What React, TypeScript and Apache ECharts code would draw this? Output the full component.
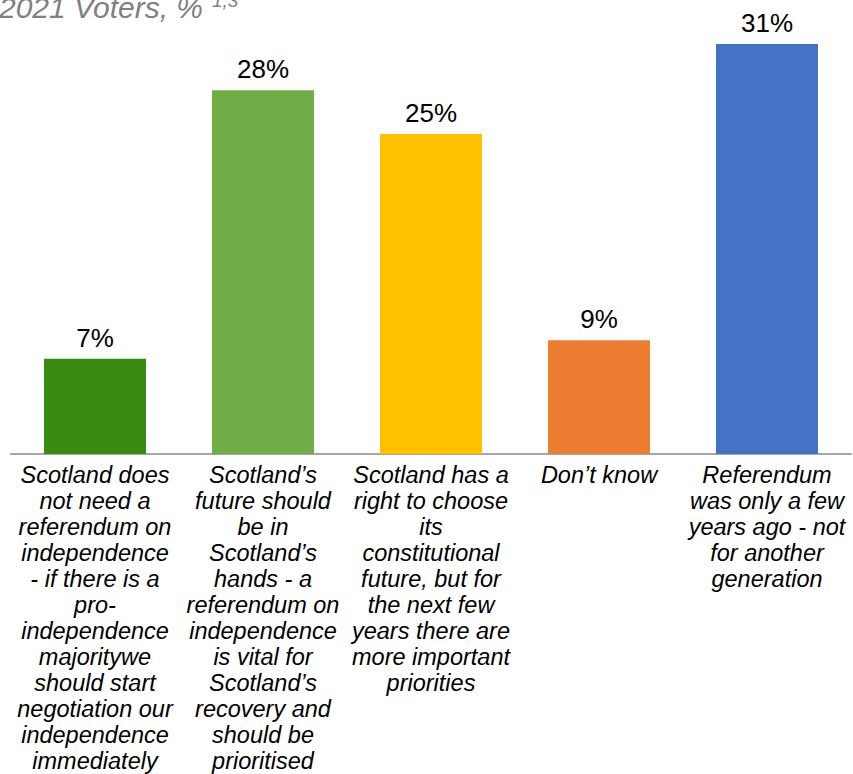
import React, { useEffect, useRef } from "react";
import * as echarts from "echarts";

const categories: string[] = [
  "Scotland does\nnot need a\nreferendum on\nindependence\n- if there is a\npro-\nindependence\nmajoritywe\nshould start\nnegotiation our\nindependence\nimmediately",
  "Scotland’s\nfuture should\nbe in\nScotland’s\nhands - a\nreferendum on\nindependence\nis vital for\nScotland’s\nrecovery and\nshould be\nprioritised",
  "Scotland has a\nright to choose\nits\nconstitutional\nfuture, but for\nthe next few\nyears there are\nmore important\npriorities",
  "Don’t know",
  "Referendum\nwas only a few\nyears ago - not\nfor another\ngeneration",
];
const values: number[] = [7.2, 27.5, 24.2, 8.6, 31];
const labels: string[] = ["7%", "28%", "25%", "9%", "31%"];
const colors: string[] = ["#388a10", "#70ad47", "#ffc000", "#ed7d31", "#4472c4"];

const FONT = "Liberation Sans, Arial, sans-serif";

export default function App() {
  const ref = useRef<HTMLDivElement>(null);
  useEffect(() => {
    if (!ref.current) return;
    const chart = echarts.init(ref.current, undefined, { renderer: "svg" });
    chart.setOption({
      animation: false,
      backgroundColor: "#ffffff",
      grid: { left: 11, right: 2, top: 44, height: 411, containLabel: false },
      graphic: [
        {
          type: "text",
          x: -1,
          y: 22,
          style: {
            text: "2021 Voters, %",
            fontSize: 30,
            fontStyle: "italic",
            fontFamily: FONT,
            fill: "#808080",
            verticalAlign: "bottom",
          },
        },
        {
          type: "text",
          x: 212,
          y: 10,
          style: {
            text: "1,3",
            fontSize: 19,
            fontStyle: "italic",
            fontFamily: FONT,
            fill: "#808080",
            verticalAlign: "bottom",
          },
        },
      ],
      xAxis: {
        type: "category",
        data: categories,
        axisLine: { show: true, lineStyle: { color: "#a6a6a6", width: 2 } },
        axisTick: { show: false },
        axisLabel: {
          interval: 0,
          margin: 8,
          color: "#000000",
          fontSize: 23.5,
          lineHeight: 26,
          fontStyle: "italic",
          fontFamily: FONT,
          align: "center",
          verticalAlign: "top",
        },
      },
      yAxis: {
        type: "value",
        min: 0,
        max: 31,
        show: false,
        splitLine: { show: false },
      },
      series: [
        {
          type: "bar",
          barWidth: 102,
          data: values.map((v, i) => ({ value: v, itemStyle: { color: colors[i] } })),
          label: {
            show: true,
            position: "top",
            distance: 8,
            color: "#000000",
            fontSize: 26,
            fontFamily: FONT,
            formatter: (p: any) => labels[p.dataIndex],
          },
        },
      ],
    });
    return () => chart.dispose();
  }, []);
  return (
    <div
      ref={ref}
      style={{ position: "absolute", left: 0, top: 0, width: 853, height: 774 }}
    />
  );
}
